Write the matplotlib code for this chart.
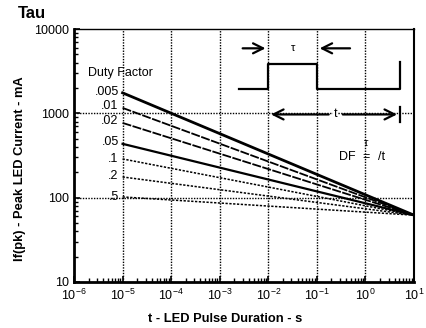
import numpy as np
import matplotlib
matplotlib.use('Agg')
import matplotlib.pyplot as plt
from matplotlib.ticker import FixedLocator, FixedFormatter, LogLocator, NullFormatter

plt.rcParams['font.family'] = ['Liberation Sans', 'DejaVu Sans']
plt.rcParams['mathtext.fontset'] = 'custom'
plt.rcParams['mathtext.rm'] = 'Liberation Sans'
plt.rcParams['mathtext.it'] = 'Liberation Sans:italic'

# duty factor curves: peak current at t = 1e-5 s, all meeting at t = 10 s
duty_labels = ['.005', '.01', '.02', '.05', '.1', '.2', '.5']
start_ma = [1750, 1160, 770, 435, 288, 176, 102]
end_ma = 62
t_start = 1e-5
t_end = 10.0
label_y = [1800, 1230, 820, 460, 290, 182, 102]

x_ticks = [1e-6, 1e-5, 1e-4, 1e-3, 1e-2, 1e-1, 1e0, 1e1]
x_ticklabels = ['10$^{-6}$', '10$^{-5}$', '10$^{-4}$', '10$^{-3}$', '10$^{-2}$',
                '10$^{-1}$', '10$^{0}$', '10$^{1}$']
y_ticks = [10, 100, 1000, 10000]
y_ticklabels = ['10', '100', '1000', '10000']

styles = [
    dict(ls='-', lw=2.0),
    dict(ls=(0, (5, 0.8)), lw=1.3),
    dict(ls=(0, (5, 0.8)), lw=1.3),
    dict(ls='-', lw=1.6),
    dict(ls=(0, (1.5, 1)), lw=1.1),
    dict(ls=(0, (1.5, 1)), lw=1.1),
    dict(ls=(0, (1.5, 1)), lw=1.1),
]

fig = plt.figure(figsize=(4.27, 3.28), dpi=100)
ax = fig.add_axes([74 / 427, 1 - 282 / 328, 340 / 427, 253 / 328])
ax.set_xscale('log')
ax.set_yscale('log')
ax.set_xlim(1e-6, 10)
ax.set_ylim(10, 10000)

# grid
for gx in x_ticks[1:-1]:
    ax.axvline(gx, color='k', ls=(0, (1, 1)), lw=1.0, zorder=1)
for gy in [100, 1000]:
    ax.axhline(gy, color='k', ls=(0, (1, 1)), lw=1.0, zorder=1)

for lab, s0, st, ly in zip(duty_labels, start_ma, styles, label_y):
    ax.plot([t_start, t_end], [s0, end_ma], color='k', zorder=3, **st)
    ax.text(8.3e-6, ly, lab, ha='right', va='center', fontsize=9)

ax.text(1.95e-6, 3000, 'Duty Factor', ha='left', va='center', fontsize=9)

# pulse diagram
k = dict(color='k', lw=1.6)
arr = dict(arrowstyle='->', lw=1.6, color='k', mutation_scale=18)
ax.plot([2.5e-3, 1e-2, 1e-2, 1e-1, 1e-1, 5.1, 5.1],
        [1950, 1950, 3850, 3850, 1950, 1950, 4100], **k)
ax.annotate('', xy=(1e-2, 5900), xytext=(2.6e-3, 5900), arrowprops=arr)
ax.annotate('', xy=(1e-1, 5900), xytext=(0.55, 5900), arrowprops=arr)
ax.text(3.2e-2, 5900, 'τ', ha='center', va='center', fontsize=8)
ax.annotate('', xy=(1e-2, 970), xytext=(0.2, 970), arrowprops=arr)
ax.annotate('', xy=(5.1, 970), xytext=(0.3, 970), arrowprops=arr)
ax.plot([5.1, 5.1], [780, 1180], **k)
ax.text(0.246, 970, 't', ha='center', va='center', fontsize=9,
        bbox=dict(facecolor='white', edgecolor='none', pad=0.5))
ax.text(0.64, 300, 'DF', ha='right', va='center', fontsize=9)
ax.text(1.02, 300, '=', ha='center', va='center', fontsize=9)
ax.text(1.02, 450, 'τ', ha='center', va='center', fontsize=8)
ax.text(2.17, 300, '/t', ha='center', va='center', fontsize=9)

# axes styling
ax.xaxis.set_major_locator(FixedLocator(x_ticks))
ax.xaxis.set_major_formatter(FixedFormatter(x_ticklabels))
ax.yaxis.set_major_locator(FixedLocator(y_ticks))
ax.yaxis.set_major_formatter(FixedFormatter(y_ticklabels))
ax.xaxis.set_minor_locator(LogLocator(base=10, subs=np.arange(2, 10), numticks=20))
ax.yaxis.set_minor_locator(LogLocator(base=10, subs=np.arange(2, 10), numticks=20))
ax.xaxis.set_minor_formatter(NullFormatter())
ax.yaxis.set_minor_formatter(NullFormatter())
ax.tick_params(which='both', direction='in', top=False, right=False, labelsize=9)
ax.tick_params(which='major', length=4, width=1.2)
ax.tick_params(which='minor', length=3, width=1.0)
ax.tick_params(axis='x', pad=4)
ax.spines['left'].set_linewidth(2.0)
ax.spines['bottom'].set_linewidth(2.0)
ax.spines['right'].set_linewidth(1.5)
ax.spines['top'].set_linewidth(1.0)
ax.spines['top'].set_linestyle((0, (1, 1)))

ax.set_xlabel('t - LED Pulse Duration - s', fontsize=9.3, fontweight='bold')
ax.set_ylabel('If(pk) - Peak LED Current - mA', fontsize=9.3, fontweight='bold')
ax.xaxis.set_label_coords(0.444, -0.1225)
ax.yaxis.set_label_coords(-0.141, 0.447)

fig.text(18 / 427, 1 - 13 / 328, 'Tau', fontsize=12, fontweight='bold', ha='left', va='center')

fig.savefig('out.png', dpi=100)
